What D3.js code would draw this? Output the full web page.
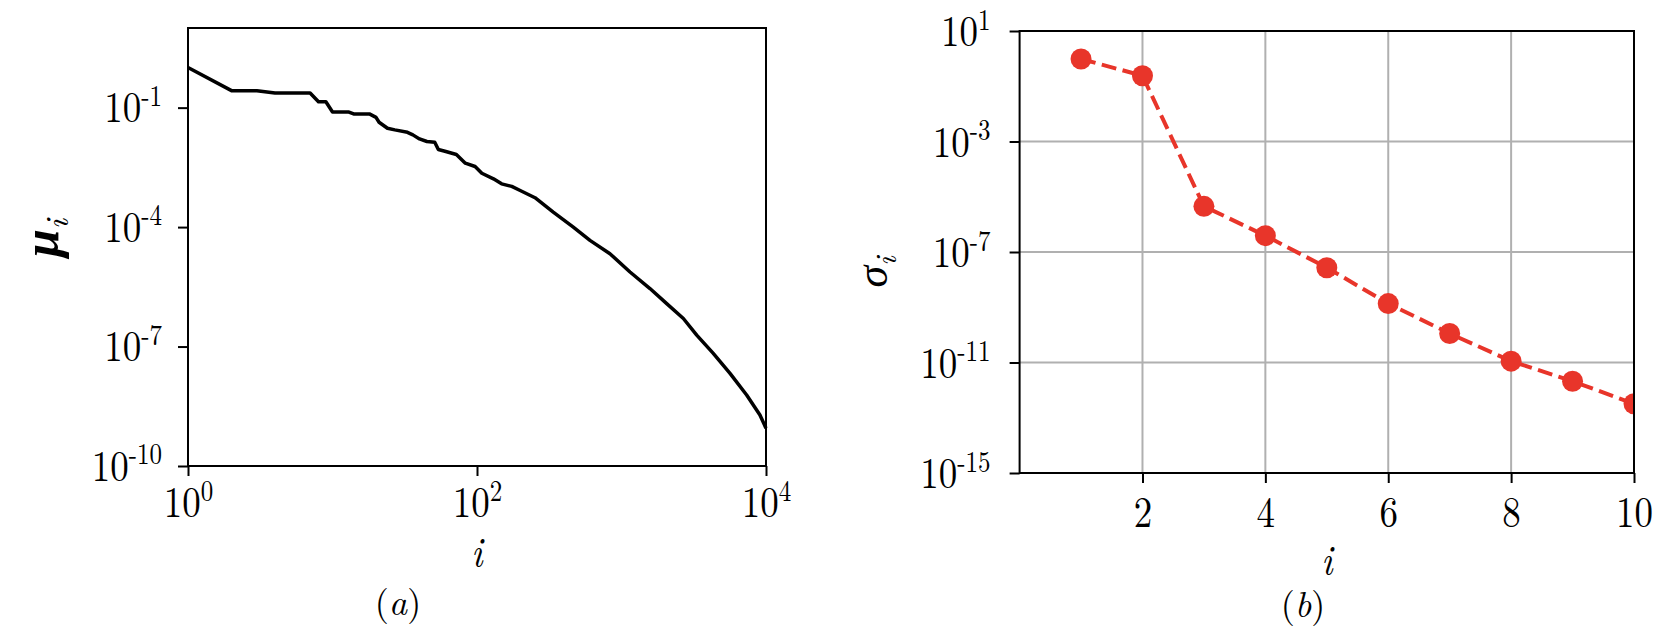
<!DOCTYPE html>
<html>
<head>
<meta charset="utf-8">
<title>mu / sigma decay</title>
<style>
  body { margin: 0; background: #fff; }
  .tick line { stroke: #000; stroke-width: 2px; }
  .domain { display: none; }
  .spine { fill: none; stroke: #000; stroke-width: 2px; }
  .grid line { stroke: #b0b0b0; stroke-width: 2px; }
</style>
</head>
<body>
<svg width="1674" height="634" style="font-family: 'Latin Modern Roman', 'Liberation Serif', serif"></svg>
<script src="https://d3js.org/d3.v7.min.js"></script>
<script>

// (a) mu_i against i
var muIndex = [1, 2, 3, 4, 7, 8, 9, 10, 13, 14, 18, 20, 21, 24, 27, 33, 36, 40, 45, 51, 54, 60, 72, 83, 97,
  108, 130, 148, 174, 199, 252, 337, 464, 605, 832, 1145, 1574, 2055, 2680, 3315, 4315, 5636, 7345, 9080, 10000];
var muValue = [1.02, 0.267, 0.267, 0.233, 0.233, 0.141, 0.141, 0.0776, 0.0776, 0.0695, 0.0695, 0.0571, 0.0429,
  0.0303, 0.0276, 0.0240, 0.0207, 0.0164, 0.0141, 0.0135, 0.00885, 0.00804, 0.00664, 0.00402, 0.00332,
  0.00225, 0.00163, 0.00122, 0.00105, 8.3e-4, 5.46e-4, 2.38e-4, 1.0e-4, 4.65e-5, 2.15e-5, 7.45e-6, 2.86e-6,
  1.20e-6, 5.06e-7, 1.93e-7, 6.71e-8, 2.12e-8, 6.05e-9, 1.91e-9, 8.85e-10];

// (b) sigma_i against i
var sigmaIndex = [1, 2, 3, 4, 5, 6, 7, 8, 9, 10];
var sigmaValue = [0.97, 0.24, 4.5e-6, 3.9e-7, 2.7e-8, 1.36e-9, 1.12e-10, 1.12e-11, 2.1e-12, 3.2e-13];

// ticks
var muXTicks = [1, 1e2, 1e4];
var muYTicks = [1e-1, 1e-4, 1e-7, 1e-10];
var sigmaXTicks = [2, 4, 6, 8, 10];
var sigmaYTicks = [1e1, 1e-3, 1e-7, 1e-11, 1e-15];

var serif = "'Latin Modern Roman', 'Liberation Serif', serif";
var svg = d3.select("svg");
var red = "#e8352a";
var k = 1.17;   // the source glyphs are drawn a little taller than wide

// write 10^p as "10" + raised exponent
function powerLabel(text) {
  text.each(function(d) {
    var t = d3.select(this).text("");
    var p = Math.round(Math.log10(d));
    t.append("tspan").text("10");
    t.append("tspan").attr("dy", -14).style("font-size", "25px").text(p < 0 ? "-" + (-p) : p);
  });
}

function tall(text) {
  text.attr("transform", "scale(1," + k + ")");
}

// ---------- panel (a) ----------
var a = {left: 188, right: 766, top: 28, bottom: 466};

var xA = d3.scaleLog().domain([1, 1e4]).range([a.left, a.right]),
    yA = d3.scaleLog().domain([1e-10, 1e1]).range([a.bottom, a.top]);

var gA = svg.append("g");

gA.append("path")
    .datum(d3.zip(muIndex, muValue))
    .attr("fill", "none")
    .attr("stroke", "#000")
    .attr("stroke-width", 3.5)
    .attr("stroke-linejoin", "round")
    .attr("d", d3.line().x(function(d) { return xA(d[0]); }).y(function(d) { return yA(d[1]); }));

gA.append("g")
    .attr("transform", "translate(0," + a.bottom + ")")
    .call(d3.axisBottom(xA).tickValues(muXTicks).tickSize(10).tickSizeOuter(0))
    .selectAll(".tick text")
      .attr("y", 51 / k).attr("dy", 0)
      .call(tall)
      .call(powerLabel);

gA.append("g")
    .attr("transform", "translate(" + a.left + ",0)")
    .call(d3.axisLeft(yA).tickValues(muYTicks).tickSize(10).tickPadding(16).tickSizeOuter(0))
    .selectAll(".tick text")
      .attr("dy", 12)
      .call(tall)
      .call(powerLabel);

gA.append("rect").attr("class", "spine")
    .attr("x", a.left).attr("y", a.top)
    .attr("width", a.right - a.left).attr("height", a.bottom - a.top);

gA.append("text")
    .attr("transform", "translate(477,567) scale(1," + k + ")")
    .style("font-size", "37px").style("font-style", "italic")
    .attr("text-anchor", "middle")
    .text("i");

gA.append("text")
    .attr("transform", "translate(58,238) rotate(-90)")
    .attr("text-anchor", "middle")
    .style("font-size", "50px").style("font-style", "italic").style("font-weight", "bold")
    .html('μ<tspan dy="10" style="font-size:33px;font-weight:normal">i</tspan>');

gA.append("text")
    .attr("x", 398).attr("y", 615)
    .attr("text-anchor", "middle")
    .style("font-size", "36px")
    .html('(<tspan style="font-style:italic">a</tspan>)');

// ---------- panel (b) ----------
var b = {left: 1019.6, right: 1634, top: 31, bottom: 473};

var xB = d3.scaleLinear().domain([0, 10]).range([b.left, b.right]),
    yB = d3.scaleLog().domain([1e-15, 1e1]).range([b.bottom, b.top]);

var gB = svg.append("g");

gB.append("defs").append("clipPath").attr("id", "clipB")
  .append("rect")
    .attr("x", b.left).attr("y", b.top)
    .attr("width", b.right - b.left).attr("height", b.bottom - b.top);

var grid = gB.append("g").attr("class", "grid");
grid.selectAll(".gx")
    .data(sigmaXTicks)
    .enter().append("line")
      .attr("x1", function(d) { return xB(d); }).attr("x2", function(d) { return xB(d); })
      .attr("y1", b.top).attr("y2", b.bottom);
grid.selectAll(".gy")
    .data(sigmaYTicks)
    .enter().append("line")
      .attr("x1", b.left).attr("x2", b.right)
      .attr("y1", function(d) { return yB(d); }).attr("y2", function(d) { return yB(d); });

var plotB = gB.append("g").attr("clip-path", "url(#clipB)");
var sigmaData = d3.zip(sigmaIndex, sigmaValue);

plotB.append("path")
    .datum(sigmaData)
    .attr("fill", "none")
    .attr("stroke", red)
    .attr("stroke-width", 4)
    .attr("stroke-dasharray", "15,6.5")
    .attr("d", d3.line().x(function(d) { return xB(d[0]); }).y(function(d) { return yB(d[1]); }));

plotB.selectAll("circle")
    .data(sigmaData)
    .enter().append("circle")
      .attr("cx", function(d) { return xB(d[0]); })
      .attr("cy", function(d) { return yB(d[1]); })
      .attr("r", 10.5)
      .attr("fill", red);

gB.append("g")
    .attr("transform", "translate(0," + b.bottom + ")")
    .call(d3.axisBottom(xB).tickValues(sigmaXTicks).tickSize(10).tickSizeOuter(0))
    .selectAll(".tick text")
      .attr("y", 54 / k).attr("dy", 0)
      .call(tall);

gB.append("g")
    .attr("transform", "translate(" + b.left + ",0)")
    .call(d3.axisLeft(yB).tickValues(sigmaYTicks).tickSize(10).tickPadding(19).tickSizeOuter(0))
    .selectAll(".tick text")
      .attr("dy", 12.5)
      .call(tall)
      .call(powerLabel);

gB.append("rect").attr("class", "spine")
    .attr("x", b.left).attr("y", b.top)
    .attr("width", b.right - b.left).attr("height", b.bottom - b.top);

gB.append("text")
    .attr("transform", "translate(1327,575) scale(1," + k + ")")
    .style("font-size", "37px").style("font-style", "italic")
    .attr("text-anchor", "middle")
    .text("i");

gB.append("text")
    .attr("transform", "translate(887,272) rotate(-90)")
    .attr("text-anchor", "middle")
    .style("font-size", "44px").style("font-style", "italic")
    .html('σ<tspan dy="9" style="font-size:30px">i</tspan>');

gB.append("text")
    .attr("x", 1303).attr("y", 617)
    .attr("text-anchor", "middle")
    .style("font-size", "36px")
    .html('(<tspan style="font-style:italic">b</tspan>)');

// axis groups carry their own sans-serif default; force one family everywhere
svg.selectAll("text").style("font-family", serif).style("fill", "#000");
svg.selectAll(".tick text").style("font-size", "37px");

</script>
</body>
</html>
